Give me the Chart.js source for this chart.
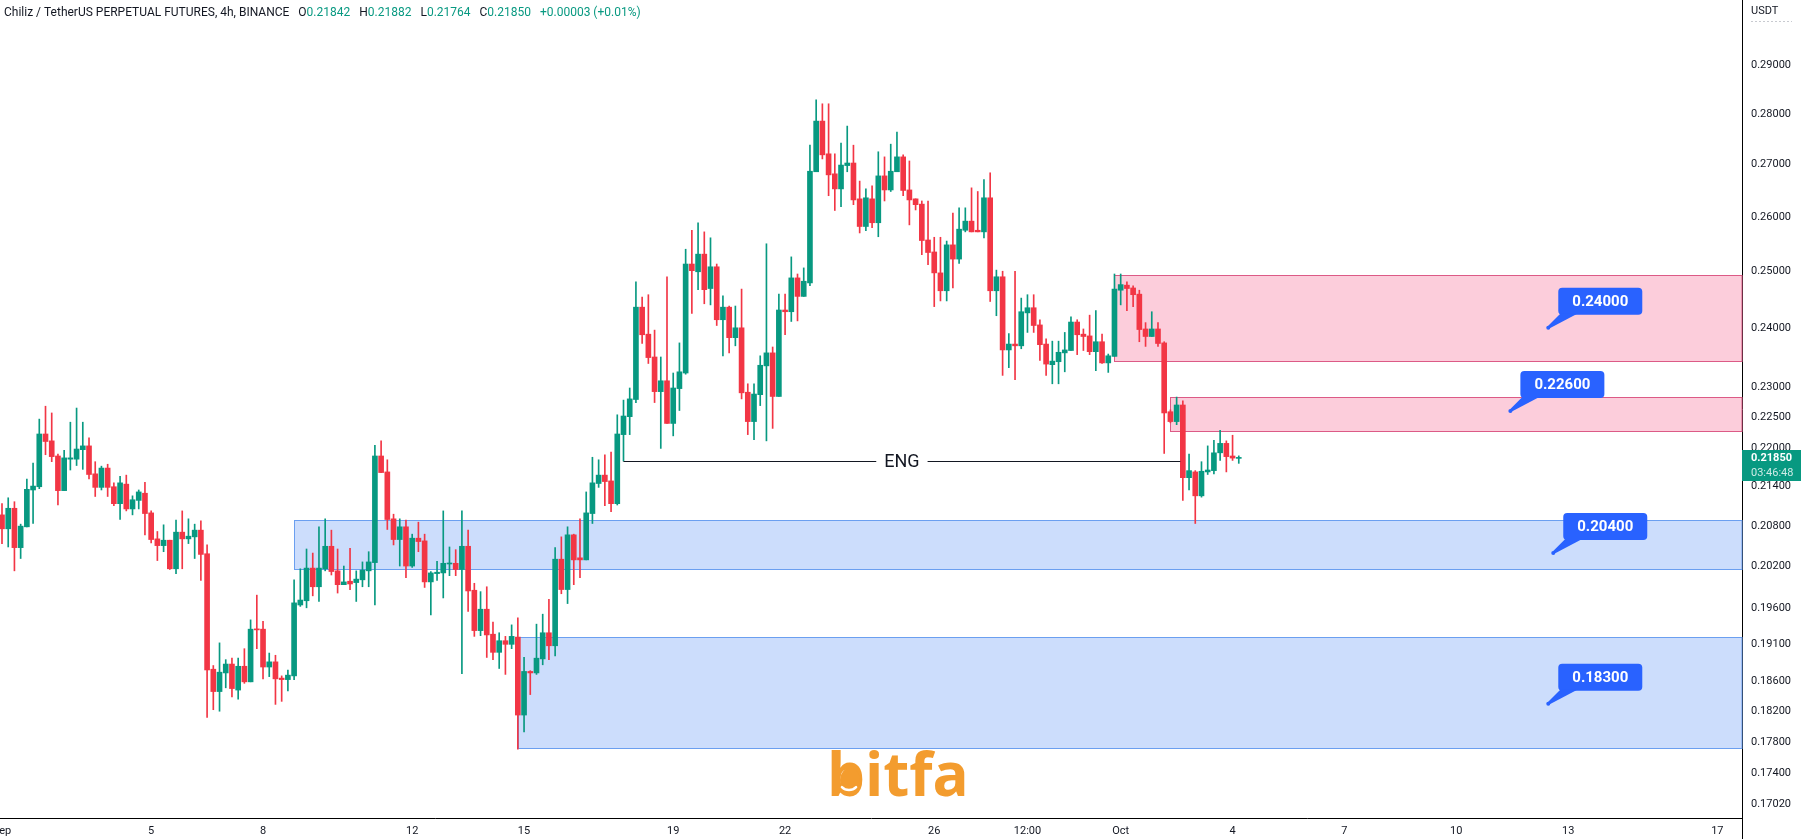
<!DOCTYPE html>
<html>
<head>
<meta charset="utf-8">
<title>CHZUSDT 4h</title>
<script src="https://cdn.jsdelivr.net/npm/chart.js@4.4.0/dist/chart.umd.min.js"></script>
<style>
  html, body { margin: 0; padding: 0; background: #fff; }
  #contenedor { width: 1801px; height: 839px; position: relative; }
</style>
</head>
<body>
<div id="contenedor"><canvas id="myChart"></canvas></div>
<script>
// Velas de 4h, indice 0 = 1 sep 00:00
const aperturas = [
  0.2097, 0.2076, 0.2107, 0.2048, 0.2079, 0.2135, 0.2140, 0.2223, 0.2212, 0.2188,
  0.2134, 0.2183, 0.2183, 0.2198, 0.2204, 0.2160, 0.2139, 0.2169, 0.2140, 0.2114,
  0.2144, 0.2106, 0.2119, 0.2130, 0.2100, 0.2061, 0.2051, 0.2059, 0.2017, 0.2071,
  0.2061, 0.2064, 0.2074, 0.2039, 0.1876, 0.1846, 0.1871, 0.1883, 0.1848, 0.1880,
  0.1859, 0.1931, 0.1931, 0.1879, 0.1886, 0.1864, 0.1862, 0.1867, 0.1965, 0.1971,
  0.2018, 0.1991, 0.2017, 0.2050, 0.2014, 0.1994, 0.1999, 0.1997, 0.2001, 0.2014,
  0.2026, 0.2188, 0.2163, 0.2091, 0.2060, 0.2079, 0.2021, 0.2062, 0.2058, 0.1998,
  0.2010, 0.2011, 0.2024, 0.2025, 0.2016, 0.2050, 0.1986, 0.1929, 0.1959, 0.1924,
  0.1899, 0.1915, 0.1910, 0.1920, 0.1815, 0.1873, 0.1871, 0.1890, 0.1926, 0.1908,
  0.2031, 0.1987, 0.2067, 0.2033, 0.2030, 0.2099, 0.2145, 0.2158, 0.2149, 0.2114,
  0.2222, 0.2251, 0.2279, 0.2436, 0.2389, 0.2350, 0.2292, 0.2310, 0.2240, 0.2297,
  0.2323, 0.2513, 0.2499, 0.2531, 0.2469, 0.2508, 0.2414, 0.2436, 0.2383, 0.2400,
  0.2291, 0.2243, 0.2287, 0.2335, 0.2357, 0.2284, 0.2431, 0.2428, 0.2488, 0.2455,
  0.2479, 0.2686, 0.2786, 0.2721, 0.2682, 0.2653, 0.2698, 0.2703, 0.2634, 0.2582,
  0.2634, 0.2589, 0.2678, 0.2651, 0.2686, 0.2715, 0.2651, 0.2634, 0.2624, 0.2557,
  0.2535, 0.2497, 0.2465, 0.2548, 0.2522, 0.2575, 0.2592, 0.2575, 0.2572, 0.2636,
  0.2465, 0.2490, 0.2362, 0.2372, 0.2369, 0.2426, 0.2435, 0.2405, 0.2372, 0.2337,
  0.2342, 0.2357, 0.2361, 0.2410, 0.2389, 0.2386, 0.2359, 0.2376, 0.2340, 0.2351,
  0.2466, 0.2475, 0.2470, 0.2459, 0.2398, 0.2385, 0.2398, 0.2374, 0.2259, 0.2243,
  0.2270, 0.2154, 0.2163, 0.2126, 0.2163, 0.2165, 0.2193, 0.2208, 0.2188, 0.21842
];
const maximos = [
  0.2114, 0.2123, 0.2117, 0.2083, 0.2152, 0.2177, 0.2247, 0.2268, 0.2257, 0.2191,
  0.2197, 0.2242, 0.2265, 0.2242, 0.2217, 0.2179, 0.2172, 0.2175, 0.2146, 0.2156,
  0.2158, 0.2126, 0.2135, 0.2147, 0.2103, 0.2072, 0.2082, 0.2059, 0.2089, 0.2103,
  0.2091, 0.2083, 0.2088, 0.2052, 0.1881, 0.1912, 0.1889, 0.1891, 0.1891, 0.1904,
  0.1944, 0.1979, 0.1942, 0.1898, 0.1895, 0.1867, 0.1875, 0.2001, 0.2017, 0.2046,
  0.2040, 0.2079, 0.2091, 0.2074, 0.2046, 0.2021, 0.2047, 0.2014, 0.2027, 0.2042,
  0.2205, 0.2212, 0.2182, 0.2098, 0.2091, 0.2089, 0.2068, 0.2086, 0.2068, 0.2013,
  0.2028, 0.2103, 0.2049, 0.2045, 0.2103, 0.2074, 0.1996, 0.1984, 0.1991, 0.1941,
  0.1926, 0.1921, 0.1937, 0.1947, 0.1892, 0.1874, 0.1938, 0.1952, 0.1973, 0.2048,
  0.2064, 0.2079, 0.2068, 0.2091, 0.2132, 0.2186, 0.2182, 0.2190, 0.2194, 0.2254,
  0.2278, 0.2298, 0.2481, 0.2454, 0.2458, 0.2396, 0.2350, 0.2490, 0.2323, 0.2374,
  0.2540, 0.2575, 0.2589, 0.2572, 0.2561, 0.2513, 0.2456, 0.2438, 0.2438, 0.2468,
  0.2305, 0.2305, 0.2352, 0.2550, 0.2367, 0.2459, 0.2459, 0.2526, 0.2495, 0.2506,
  0.2738, 0.2829, 0.2821, 0.2821, 0.2721, 0.2742, 0.2776, 0.2738, 0.2668, 0.2653,
  0.2659, 0.2725, 0.2715, 0.2740, 0.2764, 0.2719, 0.2707, 0.2634, 0.2630, 0.2630,
  0.2562, 0.2562, 0.2555, 0.2607, 0.2617, 0.2617, 0.2655, 0.2648, 0.2671, 0.2684,
  0.2502, 0.2500, 0.2390, 0.2500, 0.2452, 0.2458, 0.2458, 0.2414, 0.2381, 0.2377,
  0.2377, 0.2392, 0.2419, 0.2414, 0.2398, 0.2422, 0.2430, 0.2389, 0.2355, 0.2495,
  0.2495, 0.2481, 0.2474, 0.2466, 0.2409, 0.2428, 0.2409, 0.2376, 0.2262, 0.2283,
  0.2277, 0.2191, 0.2165, 0.2179, 0.2204, 0.2213, 0.2229, 0.2212, 0.2221, 0.21882
];
const minimos = [
  0.2054, 0.2049, 0.2014, 0.2032, 0.2079, 0.2084, 0.2137, 0.2190, 0.2179, 0.2112,
  0.2134, 0.2166, 0.2173, 0.2167, 0.2152, 0.2125, 0.2135, 0.2125, 0.2111, 0.2090,
  0.2103, 0.2097, 0.2106, 0.2067, 0.2055, 0.2029, 0.2042, 0.2016, 0.2010, 0.2017,
  0.2054, 0.2032, 0.2000, 0.1812, 0.1822, 0.1820, 0.1851, 0.1839, 0.1836, 0.1857,
  0.1859, 0.1904, 0.1863, 0.1866, 0.1829, 0.1833, 0.1847, 0.1862, 0.1963, 0.1961,
  0.1978, 0.1970, 0.2014, 0.2008, 0.1982, 0.1994, 0.1987, 0.1970, 0.1991, 0.1991,
  0.1965, 0.2162, 0.2075, 0.2052, 0.2021, 0.2004, 0.2019, 0.2042, 0.1990, 0.1951,
  0.2000, 0.1975, 0.2007, 0.2007, 0.1870, 0.1956, 0.1921, 0.1922, 0.1892, 0.1889,
  0.1877, 0.1869, 0.1904, 0.1771, 0.1793, 0.1842, 0.1869, 0.1882, 0.1889, 0.1894,
  0.1981, 0.1967, 0.1994, 0.2004, 0.2030, 0.2084, 0.2139, 0.2111, 0.2102, 0.2112,
  0.2180, 0.2222, 0.2274, 0.2373, 0.2339, 0.2274, 0.2200, 0.2240, 0.2220, 0.2261,
  0.2321, 0.2425, 0.2467, 0.2442, 0.2440, 0.2404, 0.2352, 0.2357, 0.2369, 0.2280,
  0.2222, 0.2214, 0.2269, 0.2212, 0.2232, 0.2284, 0.2388, 0.2411, 0.2412, 0.2455,
  0.2474, 0.2686, 0.2711, 0.2640, 0.2612, 0.2619, 0.2686, 0.2623, 0.2570, 0.2574,
  0.2580, 0.2563, 0.2630, 0.2648, 0.2686, 0.2640, 0.2585, 0.2613, 0.2530, 0.2512,
  0.2437, 0.2447, 0.2447, 0.2470, 0.2514, 0.2572, 0.2572, 0.2572, 0.2561, 0.2446,
  0.2421, 0.2319, 0.2332, 0.2312, 0.2364, 0.2392, 0.2392, 0.2344, 0.2319, 0.2305,
  0.2305, 0.2325, 0.2361, 0.2354, 0.2361, 0.2354, 0.2327, 0.2339, 0.2324, 0.2351,
  0.2440, 0.2430, 0.2437, 0.2376, 0.2368, 0.2385, 0.2368, 0.2192, 0.2241, 0.2238,
  0.2119, 0.2135, 0.2084, 0.2124, 0.2159, 0.2160, 0.2181, 0.2163, 0.2181, 0.21764
];
const cierres = [
  0.2076, 0.2107, 0.2048, 0.2080, 0.2136, 0.2141, 0.2223, 0.2211, 0.2187, 0.2134,
  0.2185, 0.2185, 0.2199, 0.2204, 0.2159, 0.2139, 0.2169, 0.2139, 0.2114, 0.2146,
  0.2106, 0.2120, 0.2132, 0.2099, 0.2060, 0.2051, 0.2059, 0.2017, 0.2071, 0.2061,
  0.2065, 0.2074, 0.2038, 0.1875, 0.1846, 0.1872, 0.1883, 0.1850, 0.1880, 0.1859,
  0.1931, 0.1930, 0.1879, 0.1886, 0.1863, 0.1862, 0.1868, 0.1968, 0.1972, 0.2018,
  0.1991, 0.2018, 0.2050, 0.2013, 0.1994, 0.1998, 0.1995, 0.2002, 0.2015, 0.2027,
  0.2188, 0.2162, 0.2090, 0.2060, 0.2079, 0.2021, 0.2062, 0.2057, 0.1998, 0.2011,
  0.2012, 0.2025, 0.2025, 0.2016, 0.2050, 0.1985, 0.1929, 0.1959, 0.1923, 0.1899,
  0.1915, 0.1910, 0.1921, 0.1815, 0.1873, 0.1871, 0.1891, 0.1926, 0.1908, 0.2031,
  0.1987, 0.2067, 0.2030, 0.2030, 0.2100, 0.2146, 0.2158, 0.2148, 0.2114, 0.2223,
  0.2252, 0.2280, 0.2436, 0.2388, 0.2349, 0.2292, 0.2310, 0.2240, 0.2298, 0.2325,
  0.2513, 0.2501, 0.2531, 0.2467, 0.2508, 0.2414, 0.2436, 0.2383, 0.2400, 0.2290,
  0.2243, 0.2288, 0.2336, 0.2357, 0.2284, 0.2431, 0.2428, 0.2488, 0.2455, 0.2482,
  0.2687, 0.2786, 0.2719, 0.2680, 0.2653, 0.2699, 0.2703, 0.2632, 0.2582, 0.2636,
  0.2589, 0.2678, 0.2651, 0.2687, 0.2715, 0.2650, 0.2632, 0.2623, 0.2556, 0.2534,
  0.2497, 0.2465, 0.2548, 0.2522, 0.2577, 0.2592, 0.2572, 0.2572, 0.2636, 0.2465,
  0.2490, 0.2362, 0.2372, 0.2369, 0.2428, 0.2435, 0.2404, 0.2371, 0.2338, 0.2343,
  0.2358, 0.2362, 0.2410, 0.2388, 0.2385, 0.2359, 0.2376, 0.2340, 0.2352, 0.2468,
  0.2476, 0.2469, 0.2458, 0.2397, 0.2385, 0.2398, 0.2373, 0.2257, 0.2243, 0.2270,
  0.2154, 0.2165, 0.2126, 0.2164, 0.2166, 0.2193, 0.2208, 0.2187, 0.21847, 0.21850
];

// Etiquetas del eje de tiempo (en indice de vela)
const posFechas = [0, 24, 42, 66, 84, 108, 126, 150, 165, 180, 198, 216, 234, 252, 276];
const etiquetasFechas = ['Sep', '5', '8', '12', '15', '19', '22', '26', '12:00', 'Oct', '4', '7', '10', '13', '17'];

// Etiquetas del eje de precios
const ticksPrecio = [0.29, 0.28, 0.27, 0.26, 0.25, 0.24, 0.23, 0.225, 0.22, 0.214, 0.208,
  0.202, 0.196, 0.191, 0.186, 0.182, 0.178, 0.174, 0.1702];

// Zonas de oferta / demanda
const zonasInicio = [47, 83, 179, 188];
const zonasArriba = [0.2090, 0.1920, 0.2494, 0.2283];
const zonasAbajo = [0.2016, 0.1772, 0.2344, 0.2228];
const zonasTipo = ['demanda', 'demanda', 'oferta', 'oferta'];

// Niveles marcados con etiqueta azul
const nivelesPrecio = [0.24, 0.226, 0.204, 0.183];
const nivelesVela = [248.8, 242.7, 249.6, 248.8];

// Linea ENG
const engInicio = 100;
const engFin = 189.6;

const VERDE = '#089981';
const ROJO = '#f23645';
const ultimo = cierres.length - 1;

// Rectangulo con esquinas redondeadas
function rectRedondo(ctx, x, y, w, h, r) {
  ctx.beginPath();
  ctx.moveTo(x + r, y);
  ctx.lineTo(x + w - r, y);
  ctx.quadraticCurveTo(x + w, y, x + w, y + r);
  ctx.lineTo(x + w, y + h - r);
  ctx.quadraticCurveTo(x + w, y + h, x + w - r, y + h);
  ctx.lineTo(x + r, y + h);
  ctx.quadraticCurveTo(x, y + h, x, y + h - r);
  ctx.lineTo(x, y + r);
  ctx.quadraticCurveTo(x, y, x + r, y);
  ctx.closePath();
}

const dibujos = {
  id: 'dibujos',
  beforeDatasetsDraw(chart) {
    const ctx = chart.ctx, a = chart.chartArea, x = chart.scales.x, y = chart.scales.y;
    ctx.save();
    // Zonas
    for (let k = 0; k < zonasInicio.length; k++) {
      const x1 = Math.round(x.getPixelForValue(zonasInicio[k])) + 0.5;
      const y1 = Math.round(y.getPixelForValue(zonasArriba[k])) + 0.5;
      const y2 = Math.round(y.getPixelForValue(zonasAbajo[k])) + 0.5;
      const oferta = zonasTipo[k] === 'oferta';
      ctx.fillStyle = oferta ? 'rgba(242, 54, 110, 0.25)' : 'rgba(33, 110, 243, 0.23)';
      ctx.fillRect(x1, y1, a.right - x1, y2 - y1);
      ctx.strokeStyle = oferta ? '#dc5a86' : '#6b9ff0';
      ctx.lineWidth = 1;
      ctx.strokeRect(x1, y1, a.right - x1, y2 - y1);
    }
    // Marca de agua
    ctx.fillStyle = '#f39c2e';
    ctx.font = 'bold 60px "Open Sans"';
    ctx.textAlign = 'left';
    ctx.textBaseline = 'alphabetic';
    ctx.fillText('bitfa', 827, 796);
    ctx.beginPath();
    ctx.ellipse(850, 780, 10, 12, 0, 0, Math.PI * 2);
    ctx.fill();
    ctx.strokeStyle = '#ffffff';
    ctx.lineWidth = 2.5;
    ctx.lineCap = 'round';
    ctx.beginPath();
    ctx.arc(849, 780, 10, 0.25 * Math.PI, 0.75 * Math.PI);
    ctx.stroke();
    ctx.restore();
  },
  afterDatasetsDraw(chart) {
    const ctx = chart.ctx, x = chart.scales.x, y = chart.scales.y;
    ctx.save();
    // Linea ENG desde el minimo de la vela
    const yE = Math.round(y.getPixelForValue(minimos[engInicio])) + 0.5;
    const xa = x.getPixelForValue(engInicio), xb = x.getPixelForValue(engFin);
    const xm = (xa + xb) / 2;
    ctx.font = '18px Roboto';
    const w = ctx.measureText('ENG').width;
    ctx.strokeStyle = '#131722';
    ctx.lineWidth = 1;
    ctx.beginPath();
    ctx.moveTo(xa, yE); ctx.lineTo(xm - w / 2 - 8, yE);
    ctx.moveTo(xm + w / 2 + 8, yE); ctx.lineTo(xb, yE);
    ctx.stroke();
    ctx.fillStyle = '#131722';
    ctx.textAlign = 'center';
    ctx.textBaseline = 'middle';
    ctx.fillText('ENG', xm, yE + 1);

    // Etiquetas de nivel
    for (let k = 0; k < nivelesPrecio.length; k++) {
      const ax = x.getPixelForValue(nivelesVela[k]);
      const ay = y.getPixelForValue(nivelesPrecio[k]);
      const bx = ax + 10, bw = 84, bh = 27, by = ay - 13 - bh;
      ctx.fillStyle = '#2962ff';
      rectRedondo(ctx, bx, by, bw, bh, 4);
      ctx.fill();
      ctx.beginPath();
      ctx.moveTo(bx + 2, by + bh - 1);
      ctx.lineTo(bx + 19, by + bh - 1);
      ctx.lineTo(ax + 1.5, ay + 0.5);
      ctx.lineTo(ax - 0.5, ay - 1.5);
      ctx.closePath();
      ctx.fill();
      ctx.beginPath();
      ctx.arc(ax, ay, 2, 0, Math.PI * 2);
      ctx.fill();
      ctx.fillStyle = '#ffffff';
      ctx.font = 'bold 15px Roboto';
      ctx.fillText(nivelesPrecio[k].toFixed(5), bx + bw / 2, by + bh / 2 + 1);
    }
    ctx.restore();
  },
  afterDraw(chart) {
    const ctx = chart.ctx, a = chart.chartArea, y = chart.scales.y;
    ctx.save();
    // Encabezado
    ctx.textAlign = 'left';
    ctx.textBaseline = 'middle';
    ctx.font = '12px Roboto';
    let px = 4;
    const partes = [
      ['Chiliz / TetherUS PERPETUAL FUTURES, 4h, BINANCE', ''],
      ['O', aperturas[ultimo].toFixed(5)],
      ['H', maximos[ultimo].toFixed(5)],
      ['L', minimos[ultimo].toFixed(5)],
      ['C', cierres[ultimo].toFixed(5)]
    ];
    partes.forEach(p => {
      ctx.fillStyle = '#131722';
      ctx.fillText(p[0], px, 13);
      px += ctx.measureText(p[0]).width;
      ctx.fillStyle = VERDE;
      ctx.fillText(p[1], px, 13);
      px += ctx.measureText(p[1]).width + 9;
    });
    const cambio = cierres[ultimo] - cierres[ultimo - 1];
    const pct = cambio / cierres[ultimo - 1] * 100;
    const signo = cambio >= 0 ? '+' : '-';
    ctx.fillStyle = cambio >= 0 ? VERDE : ROJO;
    ctx.fillText(signo + Math.abs(cambio).toFixed(5) + ' (' + signo + Math.abs(pct).toFixed(2) + '%)', px, 13);

    // Unidad del eje
    ctx.fillStyle = '#131722';
    ctx.font = '11px Roboto';
    ctx.fillText('USDT', a.right + 9, 11);
    ctx.strokeStyle = '#c8cad0';
    ctx.setLineDash([2, 2]);
    ctx.beginPath();
    ctx.moveTo(a.right + 9, 21.5); ctx.lineTo(a.right + 50, 21.5);
    ctx.stroke();
    ctx.setLineDash([]);

    // Etiqueta del ultimo precio
    const yC = y.getPixelForValue(cierres[ultimo]);
    ctx.fillStyle = VERDE;
    ctx.fillRect(a.right, Math.round(yC) - 8, chart.width - a.right, 31);
    ctx.fillStyle = '#ffffff';
    ctx.font = 'bold 11px Roboto';
    ctx.fillText(cierres[ultimo].toFixed(5), a.right + 9, yC + 0.5);
    ctx.fillStyle = 'rgba(255,255,255,0.8)';
    ctx.font = '11px Roboto';
    ctx.fillText('03:46:48', a.right + 9, yC + 15);

    // Prolongar el borde del eje de precios
    ctx.strokeStyle = '#000000';
    ctx.lineWidth = 1;
    ctx.beginPath();
    ctx.moveTo(Math.round(a.right) + 0.5, a.bottom);
    ctx.lineTo(Math.round(a.right) + 0.5, chart.height);
    ctx.stroke();
    ctx.restore();
  }
};

// Datos para las velas: mecha (min-max) y cuerpo (apertura-cierre)
const colores = cierres.map((c, i) => c >= aperturas[i] ? VERDE : ROJO);
const mechas = cierres.map((c, i) => ({ x: i, y: [minimos[i], maximos[i]] }));
const cuerpos = cierres.map((c, i) => ({ x: i, y: [aperturas[i], c] }));

Chart.defaults.font.family = 'Roboto';
const ctx = document.getElementById('myChart');

new Chart(ctx, {
  type: 'bar',
  data: {
    datasets: [
      { data: mechas, backgroundColor: colores, barThickness: 1, grouped: false, borderWidth: 0 },
      { data: cuerpos, backgroundColor: colores, barThickness: 5, grouped: false, borderWidth: 0, minBarLength: 1 }
    ]
  },
  options: {
    responsive: true,
    maintainAspectRatio: false,
    animation: false,
    layout: { padding: 0 },
    plugins: { legend: { display: false }, tooltip: { enabled: false } },
    scales: {
      x: {
        type: 'linear',
        min: -0.322,
        max: 279.97,
        offset: false,
        grid: { display: false, drawTicks: false },
        border: { display: true, color: '#000000', width: 1 },
        ticks: {
          autoSkip: false,
          maxRotation: 0,
          padding: 7,
          color: '#131722',
          font: { size: 11 },
          callback: (v, i) => etiquetasFechas[i]
        },
        afterBuildTicks: s => { s.ticks = posFechas.map(v => ({ value: v })); },
        afterFit: s => { s.height = 21; s.paddingLeft = 0; s.paddingRight = 0; }
      },
      y: {
        type: 'logarithmic',
        position: 'right',
        min: 0.168506,
        max: 0.304036,
        bounds: 'data',
        grid: { display: false, drawTicks: false },
        border: { display: true, color: '#000000', width: 1 },
        ticks: {
          padding: 9,
          color: '#131722',
          font: { size: 11 },
          callback: v => Number(v).toFixed(5)
        },
        afterBuildTicks: s => { s.ticks = ticksPrecio.map(v => ({ value: v })); },
        afterFit: s => { s.width = 59; s.paddingTop = 0; s.paddingBottom = 0; }
      }
    }
  },
  plugins: [dibujos]
});
</script>
</body>
</html>
